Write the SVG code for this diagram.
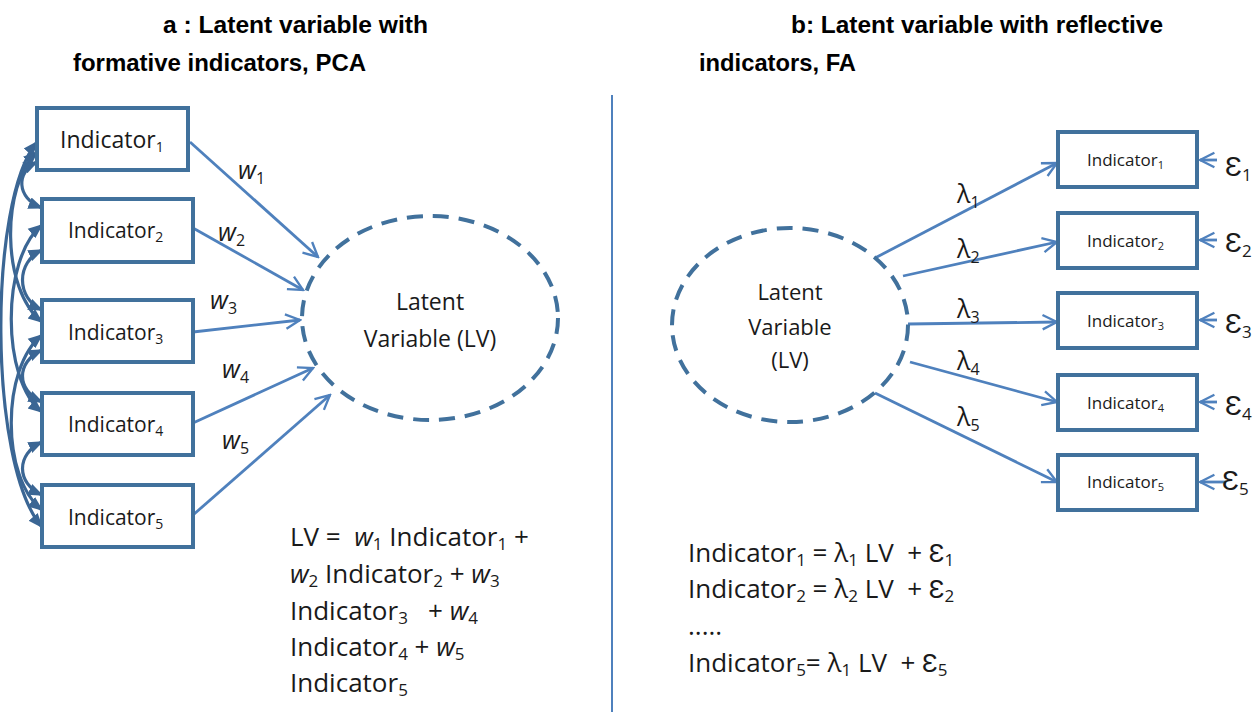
<svg xmlns="http://www.w3.org/2000/svg" width="1257" height="712" viewBox="0 0 1257 712">
<style>
.title{font-family:"Liberation Sans",Arial,sans-serif;font-weight:bold;font-size:24px;fill:#000}
.t{font-family:"Open Sans","Liberation Sans",sans-serif;fill:#1a1a1a}
.box{fill:#fff;stroke:#41719c;stroke-width:4}
.ell{fill:none;stroke:#41719c;stroke-width:4;stroke-dasharray:16 10}
.arr{stroke:#4f81bd;stroke-width:2.8;fill:none;marker-end:url(#open)}
.corr{stroke:#3b6694;stroke-width:3.2;fill:none;marker-start:url(#solid);marker-end:url(#solid)}
.it{font-style:italic}
</style>
<defs>
<marker id="open" viewBox="0 0 20 20" refX="18" refY="10" markerWidth="18" markerHeight="18" orient="auto" markerUnits="userSpaceOnUse">
<path d="M2,2 L18,10 L2,18" fill="none" stroke="#4f81bd" stroke-width="2.6"/>
</marker>
<marker id="solid" viewBox="0 0 10 10" refX="9" refY="5" markerWidth="15" markerHeight="15" orient="auto-start-reverse" markerUnits="userSpaceOnUse">
<path d="M0,1 L10,5 L0,9 z" fill="#3b6694"/>
</marker>
</defs>
<rect width="1257" height="712" fill="#fff"/>

<g id="titles">
<text class="title" x="163" y="33" textLength="265" lengthAdjust="spacingAndGlyphs">a : Latent variable with</text>
<text class="title" x="73" y="71" textLength="293" lengthAdjust="spacingAndGlyphs">formative indicators, PCA</text>
<text class="title" x="791" y="33" textLength="372" lengthAdjust="spacingAndGlyphs">b: Latent variable with reflective</text>
<text class="title" x="699" y="71" textLength="157" lengthAdjust="spacingAndGlyphs">indicators, FA</text>
</g>

<line id="divider" x1="612" y1="95" x2="612" y2="712" stroke="#4f81bd" stroke-width="2"/>

<g id="connectors">
<!-- left formative arrows -->
<line class="arr" x1="190" y1="142" x2="318" y2="257"/>
<line class="arr" x1="193" y1="228" x2="303" y2="290"/>
<line class="arr" x1="193" y1="332" x2="300" y2="320"/>
<line class="arr" x1="193" y1="423" x2="313" y2="368"/>
<line class="arr" x1="193" y1="515" x2="330" y2="395"/>
<!-- correlations -->
<path class="corr" d="M37,162 C16,172 16,198 42,208"/>
<path class="corr" d="M42,250 C16,262 16,298 42,310"/>
<path class="corr" d="M42,350 C16,362 16,390 42,402"/>
<path class="corr" d="M42,442 C16,454 16,483 42,495"/>
<path class="corr" d="M37,152 C1,185 1,290 42,322"/>
<path class="corr" d="M42,225 C1,258 1,380 42,412"/>
<path class="corr" d="M42,335 C1,368 1,478 42,510"/>
<path class="corr" d="M37,142 C-12,200 -12,465 42,527"/>
<!-- right reflective arrows -->
<line class="arr" x1="875" y1="258" x2="1057" y2="163"/>
<line class="arr" x1="903" y1="276" x2="1057" y2="242"/>
<line class="arr" x1="908" y1="324" x2="1057" y2="322"/>
<line class="arr" x1="910" y1="362" x2="1057" y2="402"/>
<line class="arr" x1="875" y1="393" x2="1057" y2="482"/>
<!-- error arrows -->
<line class="arr" x1="1217" y1="160" x2="1200" y2="160"/>
<line class="arr" x1="1217" y1="240" x2="1200" y2="240"/>
<line class="arr" x1="1217" y1="320" x2="1200" y2="320"/>
<line class="arr" x1="1217" y1="402" x2="1200" y2="402"/>
<line class="arr" x1="1226" y1="482" x2="1200" y2="482"/>
</g>

<g id="lv-left">
<ellipse class="ell" cx="430" cy="318" rx="128" ry="102"/>
<text class="t" font-size="23" text-anchor="middle" x="430" y="310">Latent</text>
<text class="t" font-size="23" text-anchor="middle" x="430" y="347">Variable (LV)</text>
</g>

<g id="ind-l1"><rect class="box" x="37" y="108" width="151" height="62"/>
<text class="t" font-size="23" x="60" y="148">Indicator<tspan font-size="14" dy="4">1</tspan></text></g>
<g id="ind-l2"><rect class="box" x="42" y="199" width="151" height="63"/>
<text class="t" font-size="21" x="68" y="238">Indicator<tspan font-size="14" dy="4">2</tspan></text></g>
<g id="ind-l3"><rect class="box" x="42" y="300" width="151" height="62"/>
<text class="t" font-size="21" x="68" y="340">Indicator<tspan font-size="14" dy="4">3</tspan></text></g>
<g id="ind-l4"><rect class="box" x="42" y="393" width="151" height="62"/>
<text class="t" font-size="21" x="68" y="432">Indicator<tspan font-size="14" dy="4">4</tspan></text></g>
<g id="ind-l5"><rect class="box" x="42" y="485" width="151" height="62"/>
<text class="t" font-size="21" x="68" y="525">Indicator<tspan font-size="14" dy="4">5</tspan></text></g>

<g id="w-labels" class="t" font-size="25">
<text x="238" y="179"><tspan class="it">w</tspan><tspan font-size="16" dy="5">1</tspan></text>
<text x="218" y="241"><tspan class="it">w</tspan><tspan font-size="16" dy="5">2</tspan></text>
<text x="210" y="309"><tspan class="it">w</tspan><tspan font-size="16" dy="5">3</tspan></text>
<text x="222" y="378"><tspan class="it">w</tspan><tspan font-size="16" dy="5">4</tspan></text>
<text x="222" y="449"><tspan class="it">w</tspan><tspan font-size="16" dy="5">5</tspan></text>
</g>

<g id="formula-left" class="t" font-size="26">
<text x="290" y="546">LV =&#160;&#160;<tspan class="it">w</tspan><tspan font-size="17" dy="4">1</tspan><tspan dy="-4"> Indicator</tspan><tspan font-size="17" dy="4">1</tspan><tspan dy="-4"> +</tspan></text>
<text x="290" y="583"><tspan class="it">w</tspan><tspan font-size="17" dy="4">2</tspan><tspan dy="-4"> Indicator</tspan><tspan font-size="17" dy="4">2</tspan><tspan dy="-4"> + </tspan><tspan class="it">w</tspan><tspan font-size="17" dy="4">3</tspan></text>
<text x="290" y="620">Indicator<tspan font-size="17" dy="4">3</tspan><tspan dy="-4">&#160;&#160; + </tspan><tspan class="it">w</tspan><tspan font-size="17" dy="4">4</tspan></text>
<text x="290" y="656">Indicator<tspan font-size="17" dy="4">4</tspan><tspan dy="-4"> + </tspan><tspan class="it">w</tspan><tspan font-size="17" dy="4">5</tspan></text>
<text x="290" y="692">Indicator<tspan font-size="17" dy="4">5</tspan></text>
</g>

<g id="lv-right">
<ellipse class="ell" cx="790" cy="325" rx="118" ry="97"/>
<text class="t" font-size="22" text-anchor="middle" x="790" y="300">Latent</text>
<text class="t" font-size="22" text-anchor="middle" x="790" y="335">Variable</text>
<text class="t" font-size="22" text-anchor="middle" x="790" y="368">(LV)</text>
</g>

<g id="ind-r1"><rect class="box" x="1058" y="132" width="139" height="55"/>
<text class="t" font-size="17" x="1087" y="166">Indicator<tspan font-size="11" dy="3">1</tspan></text></g>
<g id="ind-r2"><rect class="box" x="1058" y="213" width="139" height="55"/>
<text class="t" font-size="17" x="1087" y="247">Indicator<tspan font-size="11" dy="3">2</tspan></text></g>
<g id="ind-r3"><rect class="box" x="1058" y="293" width="139" height="55"/>
<text class="t" font-size="17" x="1087" y="327">Indicator<tspan font-size="11" dy="3">3</tspan></text></g>
<g id="ind-r4"><rect class="box" x="1058" y="375" width="139" height="55"/>
<text class="t" font-size="17" x="1087" y="409">Indicator<tspan font-size="11" dy="3">4</tspan></text></g>
<g id="ind-r5"><rect class="box" x="1058" y="455" width="139" height="55"/>
<text class="t" font-size="17" x="1087" y="488">Indicator<tspan font-size="11" dy="3">5</tspan></text></g>

<g id="eps" class="t" font-size="28">
<text x="1225" y="176">Ɛ<tspan font-size="17" dy="5">1</tspan></text>
<text x="1225" y="252">Ɛ<tspan font-size="17" dy="5">2</tspan></text>
<text x="1225" y="333">Ɛ<tspan font-size="17" dy="5">3</tspan></text>
<text x="1225" y="415">Ɛ<tspan font-size="17" dy="5">4</tspan></text>
<text x="1222" y="490">Ɛ<tspan font-size="17" dy="5">5</tspan></text>
</g>

<g id="lambda" class="t" font-size="25">
<text x="957" y="203">λ<tspan font-size="16" dy="5">1</tspan></text>
<text x="957" y="258">λ<tspan font-size="16" dy="5">2</tspan></text>
<text x="957" y="318">λ<tspan font-size="16" dy="5">3</tspan></text>
<text x="957" y="370">λ<tspan font-size="16" dy="5">4</tspan></text>
<text x="957" y="426">λ<tspan font-size="16" dy="5">5</tspan></text>
</g>

<g id="formula-right" class="t" font-size="26">
<text x="688" y="562">Indicator<tspan font-size="17" dy="4">1</tspan><tspan dy="-4"> = λ</tspan><tspan font-size="17" dy="4">1</tspan><tspan dy="-4"> LV&#160; + Ɛ</tspan><tspan font-size="17" dy="4">1</tspan></text>
<text x="688" y="598">Indicator<tspan font-size="17" dy="4">2</tspan><tspan dy="-4"> = λ</tspan><tspan font-size="17" dy="4">2</tspan><tspan dy="-4"> LV&#160; + Ɛ</tspan><tspan font-size="17" dy="4">2</tspan></text>
<text x="688" y="635">.....</text>
<text x="688" y="672">Indicator<tspan font-size="17" dy="4">5</tspan><tspan dy="-4">= λ</tspan><tspan font-size="17" dy="4">1</tspan><tspan dy="-4"> LV&#160; + Ɛ</tspan><tspan font-size="17" dy="4">5</tspan></text>
</g>
</svg>
